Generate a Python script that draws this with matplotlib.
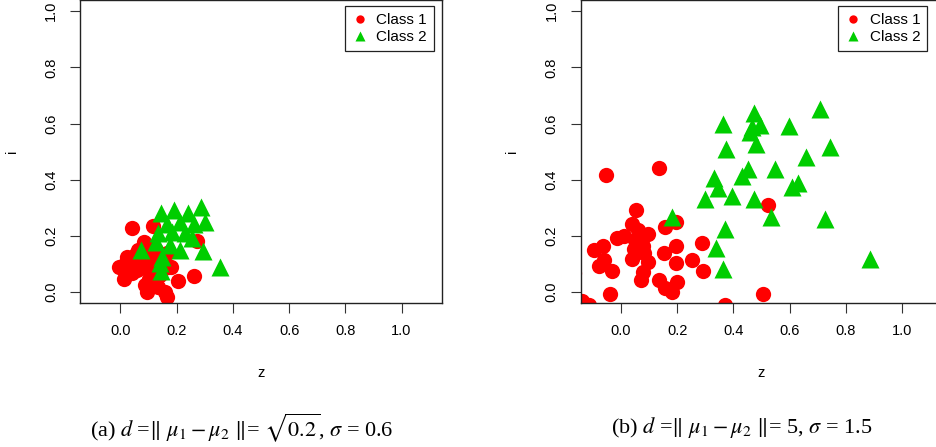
import matplotlib
matplotlib.use("Agg")
import matplotlib.pyplot as plt
from matplotlib.lines import Line2D

# ---- panel (a): d = sqrt(0.2), sigma = 0.6 ----
a_class1_x = [0.040, 0.115, 0.082, 0.271, 0.023, -0.007, 0.011, 0.046, 0.040, 0.088,
              0.088, 0.180, 0.206, 0.262, 0.088, 0.094, 0.135, 0.159, 0.165, 0.117,
              0.165, 0.064, 0.011, 0.129, 0.055, 0.035, 0.120, 0.170, 0.150, 0.100,
              0.060, 0.028, 0.102, 0.125, 0.140]
a_class1_y = [0.229, 0.235, 0.179, 0.181, 0.126, 0.088, 0.046, 0.114, 0.067, 0.126,
              0.090, 0.088, 0.040, 0.057, 0.025, 0.001, 0.019, 0.001, -0.017, 0.067,
              0.138, 0.149, 0.096, 0.114, 0.135, 0.105, 0.030, 0.090, 0.130, 0.160,
              0.080, 0.070, 0.045, 0.150, 0.060]
a_class2_x = [0.145, 0.192, 0.239, 0.286, 0.301, 0.263, 0.210, 0.165, 0.133, 0.183,
              0.230, 0.254, 0.127, 0.177, 0.212, 0.293, 0.074, 0.147, 0.141, 0.145,
              0.354]
a_class2_y = [0.280, 0.294, 0.282, 0.304, 0.250, 0.244, 0.250, 0.244, 0.209, 0.215,
              0.209, 0.191, 0.179, 0.167, 0.149, 0.147, 0.149, 0.126, 0.102, 0.076,
              0.088]

# ---- panel (b): d = 5, sigma = 1.5 ----
b_class1_x = [-0.053, 0.136, 0.522, 0.053, 0.041, -0.014, 0.012, 0.069, 0.096, 0.158,
              0.196, -0.095, -0.065, -0.059, -0.077, -0.030, 0.047, 0.080, 0.084, 0.041,
              0.096, 0.077, 0.072, 0.152, 0.196, 0.197, 0.253, 0.288, 0.292, 0.136,
              0.158, 0.181, 0.199, -0.038, 0.505, -0.139, -0.112, 0.369, -0.168, 0.050,
              0.060]
b_class1_y = [0.416, 0.441, 0.310, 0.294, 0.242, 0.193, 0.200, 0.200, 0.206, 0.232,
              0.250, 0.149, 0.164, 0.114, 0.093, 0.075, 0.152, 0.164, 0.138, 0.116,
              0.108, 0.072, 0.043, 0.140, 0.164, 0.102, 0.114, 0.173, 0.075, 0.043,
              0.013, 0.001, 0.035, -0.007, -0.007, -0.031, -0.046, -0.046, 0.067, 0.185,
              0.220]
b_class2_x = [0.363, 0.475, 0.466, 0.496, 0.460, 0.598, 0.709, 0.374, 0.480, 0.745,
              0.657, 0.454, 0.547, 0.431, 0.330, 0.347, 0.609, 0.632, 0.300, 0.395,
              0.474, 0.181, 0.534, 0.727, 0.371, 0.339, 0.362, 0.885]
b_class2_y = [0.600, 0.636, 0.588, 0.594, 0.570, 0.591, 0.651, 0.511, 0.526, 0.515,
              0.481, 0.440, 0.440, 0.413, 0.405, 0.369, 0.373, 0.390, 0.333, 0.342,
              0.331, 0.268, 0.268, 0.259, 0.223, 0.156, 0.081, 0.116]

ticks = [0.0, 0.2, 0.4, 0.6, 0.8, 1.0]
tick_labels = ["0.0", "0.2", "0.4", "0.6", "0.8", "1.0"]
captions = [r"(a) $d$ =$\|\ \mu_1 - \mu_2\ \|$= $\sqrt{0.2}$, $\sigma$ = 0.6",
            r"(b) $d$ =$\|\ \mu_1 - \mu_2\ \|$= 5, $\sigma$ = 1.5"]

RED = "#ff0000"
GREEN = "#00cd00"

plt.rcParams["font.family"] = ["Liberation Sans", "DejaVu Sans"]
plt.rcParams["mathtext.fontset"] = "stix"

W, H = 936, 447
fig = plt.figure(figsize=(W / 100, H / 100), dpi=100)


def px_axes(x0, y0, x1, y1):
    # pixel box (top-left origin) -> figure fraction
    return fig.add_axes([x0 / W, 1 - y1 / H, (x1 - x0) / W, (y1 - y0) / H])


panels = [
    (px_axes(80.3, 0, 441.7, 303.3), a_class1_x, a_class1_y, a_class2_x, a_class2_y),
    (px_axes(580.7, 0, 942.1, 303.3), b_class1_x, b_class1_y, b_class2_x, b_class2_y),
]

for k, (ax, c1x, c1y, c2x, c2y) in enumerate(panels):
    ax.plot(c1x, c1y, "o", color=RED, ms=11, mec="none", ls="none")
    ax.plot(c2x, c2y, "^", color=GREEN, ms=13, mec="none", ls="none")
    ax.set_xlim(-0.143, 1.143)
    ax.set_ylim(-0.04, 1.04)
    ax.set_xticks(ticks)
    ax.set_xticklabels(tick_labels)
    ax.set_yticks(ticks)
    ax.set_yticklabels(tick_labels, rotation=90, va="center")
    ax.tick_params(axis="both", direction="out", length=7, width=0.8,
                   labelsize=10.5, color="#333333")
    ax.tick_params(axis="x", pad=8)
    ax.tick_params(axis="y", pad=9)
    for sp in ax.spines.values():
        sp.set_linewidth(1.0)
        sp.set_color("#222222")
    ax.set_xlabel("z", fontsize=10.5, labelpad=20)
    ax.set_ylabel("i", fontsize=10.5, labelpad=18)

    handles = [
        Line2D([], [], marker="o", color=RED, ls="none", ms=6, mec="none"),
        Line2D([], [], marker="^", color=GREEN, ls="none", ms=7, mec="none"),
    ]
    leg = ax.legend(handles, ["Class 1", "Class 2"], loc="upper right",
                    bbox_to_anchor=((434 - 80.3) / 361.4, (303.3 - 6) / 303.3),
                    fontsize=11, frameon=True, fancybox=False, framealpha=1,
                    edgecolor="#222222", handlelength=1.0, handletextpad=0.6,
                    borderpad=0.45, labelspacing=0.2, borderaxespad=0)
    leg.get_frame().set_linewidth(0.9)
    if k == 1:
        leg.set_bbox_to_anchor(((927 - 580.7) / 361.4, (303.3 - 6) / 303.3),
                               transform=ax.transAxes)

    cx = 242 if k == 0 else 742
    fig.text(cx / W, 1 - 428 / H, captions[k], ha="center", va="center",
             fontsize=16, family=["Liberation Serif", "DejaVu Serif"])

fig.savefig("out.png", dpi=100)
